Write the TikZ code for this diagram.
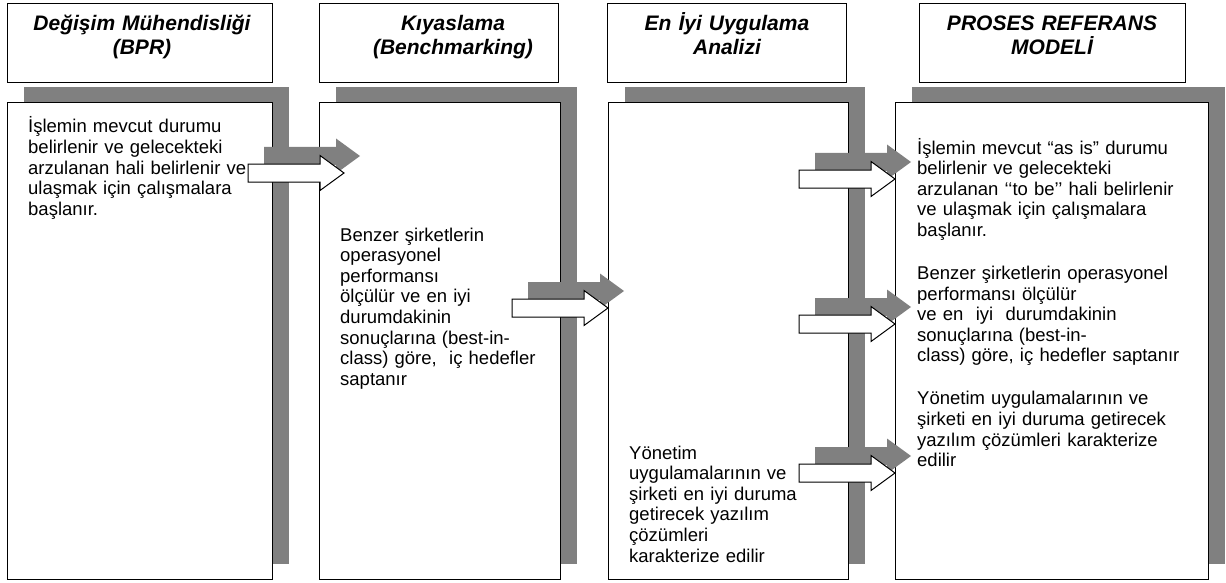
\documentclass[tikz,border=0pt]{standalone}
\usepackage{fontspec}
\setmainfont{Liberation Sans}
\usetikzlibrary{shadows}
\definecolor{shade}{HTML}{808080}
\tikzset{
  x=1pt, y=-1pt,
  % column panels with an offset grey shadow
  panel/.style={draw=black, line width=1.3pt, fill=white, inner sep=0pt, anchor=north west,
    drop shadow={shadow xshift=16pt, shadow yshift=16pt, fill=shade, opacity=1, draw=none}},
  titlebox/.style={draw=black, line width=1.3pt, fill=white, inner sep=0pt, anchor=north west},
  titletext/.style={font=\fontsize{21}{23.5}\selectfont\bfseries\itshape, text width=#1,
    align=center, inner sep=0pt, anchor=base},
  bodytext/.style={font=\fontsize{18.5}{20.6}\selectfont, text width=#1,
    align=left, inner sep=0pt, anchor=base west},
  frontarrow/.style={draw=black, line width=1pt, fill=white, line join=miter},
  backarrow/.style={fill=shade, draw=none},
  pics/blockarrow/.style={code={
    \path[pic actions] (0,0) -- (-24,17.5) -- (-24,9) -- (-96,9) -- (-96,-9)
      -- (-24,-9) -- (-24,-17.5) -- cycle;
  }},
}
\begin{document}
\begin{tikzpicture}
\useasboundingbox (0,0) rectangle (1226,583);

% title boxes
\node[titlebox, minimum width=265, minimum height=79] (h1) at (7,3) {};
\node[titlebox, minimum width=239, minimum height=79] (h2) at (319,3) {};
\node[titlebox, minimum width=239, minimum height=79] (h3) at (607,3) {};
\node[titlebox, minimum width=266, minimum height=79] (h4) at (919,3) {};

\node[titletext=250] (h1t) at (142,31) {Değişim Mühendisliği\\(BPR)};
\node[titletext=230] (h2t) at (453,31) {Kıyaslama\\(Benchmarking)};
\node[titletext=230] (h3t) at (727,31) {En İyi Uygulama\\Analizi};
\node[titletext=250] (h4t) at (1052,31) {PROSES REFERANS\\MODELİ};

% column panels
\node[panel, minimum width=265, minimum height=477] (b1) at (7,102) {};
\node[panel, minimum width=241, minimum height=477] (b2) at (319,102) {};
\node[panel, minimum width=240, minimum height=477] (b3) at (608,102) {};
\node[panel, minimum width=313, minimum height=477] (b4) at (895,102) {};

% panel texts
\node[bodytext=240] (t1) at (28,133) {İşlemin mevcut durumu\\
belirlenir ve gelecekteki\\
arzulanan hali belirlenir ve\\
ulaşmak için çalışmalara\\
başlanır.};

\node[bodytext=215] (t2) at (340,241) {Benzer şirketlerin\\
operasyonel\\
performansı\\
ölçülür ve en iyi\\
durumdakinin\\
sonuçlarına (best-in-\\
class) göre,\ \ iç hedefler\\
saptanır};

\node[bodytext=215] (t3) at (629,459) {Yönetim\\
uygulamalarının ve\\
şirketi en iyi duruma\\
getirecek yazılım\\
çözümleri\\
karakterize edilir};

\node[bodytext=285] (t4) at (917,154) {İşlemin mevcut “as is” durumu\\
belirlenir ve gelecekteki\\
arzulanan ‘‘to be’’ hali belirlenir\\
ve ulaşmak için çalışmalara\\
başlanır.\\[22.5pt]
Benzer şirketlerin operasyonel\\
performansı ölçülür\\
ve en\ \ iyi\ \ durumdakinin\\
sonuçlarına (best-in-\\
class) göre, iç hedefler saptanır\\[22.5pt]
Yönetim uygulamalarının ve\\
şirketi en iyi duruma getirecek\\
yazılım çözümleri karakterize\\
edilir};

% grey arrow shadows
\pic[backarrow] at (360,156) {blockarrow};
\pic[backarrow] at (624,291) {blockarrow};
\pic[backarrow] at (911,162) {blockarrow};
\pic[backarrow] at (911,307) {blockarrow};
\pic[backarrow] at (911,456) {blockarrow};

% white arrows between the panels
\pic[frontarrow] at (344,173) {blockarrow};
\pic[frontarrow] at (608,308) {blockarrow};
\pic[frontarrow] at (895,179) {blockarrow};
\pic[frontarrow] at (895,324) {blockarrow};
\pic[frontarrow] at (895,473) {blockarrow};
\end{tikzpicture}
\end{document}
